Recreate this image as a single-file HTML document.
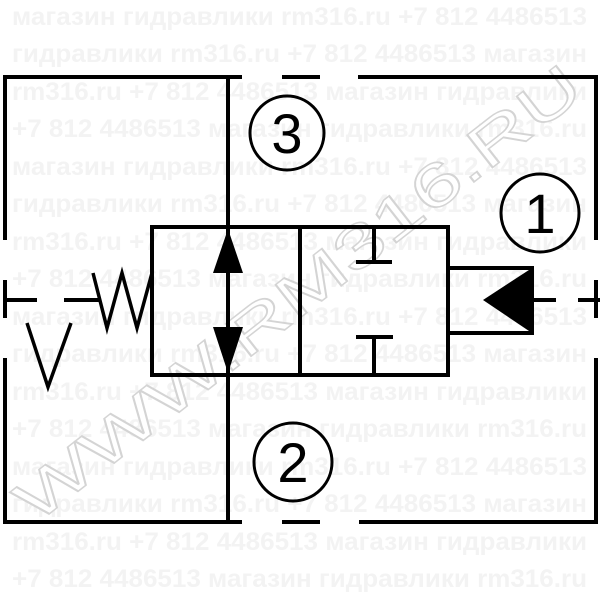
<!DOCTYPE html>
<html><head><meta charset="utf-8"><style>html,body{margin:0;padding:0;background:#fff}svg{display:block}</style></head>
<body>
<svg width="600" height="600" viewBox="0 0 600 600" xmlns="http://www.w3.org/2000/svg">
<g font-family="Liberation Sans, sans-serif" font-weight="bold" font-size="25" fill="#f3f3f3">
<text x="12" y="25" textLength="575" lengthAdjust="spacingAndGlyphs">магазин гидравлики rm316.ru +7 812 4486513</text>
<text x="12" y="62" textLength="575" lengthAdjust="spacingAndGlyphs">гидравлики rm316.ru +7 812 4486513 магазин</text>
<text x="12" y="100" textLength="575" lengthAdjust="spacingAndGlyphs">rm316.ru +7 812 4486513 магазин гидравлики</text>
<text x="12" y="137" textLength="575" lengthAdjust="spacingAndGlyphs">+7 812 4486513 магазин гидравлики rm316.ru</text>
<text x="12" y="175" textLength="575" lengthAdjust="spacingAndGlyphs">магазин гидравлики rm316.ru +7 812 4486513</text>
<text x="12" y="212" textLength="575" lengthAdjust="spacingAndGlyphs">гидравлики rm316.ru +7 812 4486513 магазин</text>
<text x="12" y="250" textLength="575" lengthAdjust="spacingAndGlyphs">rm316.ru +7 812 4486513 магазин гидравлики</text>
<text x="12" y="287" textLength="575" lengthAdjust="spacingAndGlyphs">+7 812 4486513 магазин гидравлики rm316.ru</text>
<text x="12" y="325" textLength="575" lengthAdjust="spacingAndGlyphs">магазин гидравлики rm316.ru +7 812 4486513</text>
<text x="12" y="362" textLength="575" lengthAdjust="spacingAndGlyphs">гидравлики rm316.ru +7 812 4486513 магазин</text>
<text x="12" y="400" textLength="575" lengthAdjust="spacingAndGlyphs">rm316.ru +7 812 4486513 магазин гидравлики</text>
<text x="12" y="437" textLength="575" lengthAdjust="spacingAndGlyphs">+7 812 4486513 магазин гидравлики rm316.ru</text>
<text x="12" y="475" textLength="575" lengthAdjust="spacingAndGlyphs">магазин гидравлики rm316.ru +7 812 4486513</text>
<text x="12" y="512" textLength="575" lengthAdjust="spacingAndGlyphs">гидравлики rm316.ru +7 812 4486513 магазин</text>
<text x="12" y="550" textLength="575" lengthAdjust="spacingAndGlyphs">rm316.ru +7 812 4486513 магазин гидравлики</text>
<text x="12" y="587" textLength="575" lengthAdjust="spacingAndGlyphs">+7 812 4486513 магазин гидравлики rm316.ru</text>
</g>
<text x="0" y="0" transform="translate(35,525) rotate(-38)" font-family="Liberation Sans, sans-serif" font-size="60" fill="#fff" stroke="#d4d4d4" stroke-width="1.5" textLength="700" lengthAdjust="spacingAndGlyphs">WWW.RM316.RU</text>
<g stroke="#000" stroke-width="4" fill="none" stroke-linecap="butt">
<path d="M5 77H242M282 77H320M358 77H598"/>
<path d="M5 522H242M282 522H320M359 522H598"/>
<path d="M5 75V240M5 280V318M5 358V524"/>
<path d="M596 75V240M596 280V318M596 358V524"/>
<path d="M3 300H37M64 300H100"/>
<path d="M532 300H556M578 300H600"/>
<path d="M228 77V522"/>
<rect x="152" y="227" width="296" height="148"/>
<path d="M300 227V375"/>
<path d="M374 227V262M356 262H392"/>
<path d="M356 337H393M374 337V375"/>
<path d="M448 268H532V333H448"/>
<path d="M93 273L107 328L122 273L137 328L152 273" stroke-width="3.5" stroke-linejoin="miter"/>
<path d="M27 323L48 387L71 323" stroke-width="3.5"/>
<circle cx="287" cy="133" r="37" stroke-width="3"/>
<circle cx="540" cy="213" r="39" stroke-width="3"/>
<circle cx="293" cy="462" r="39" stroke-width="3"/>
</g>
<g fill="#000">
<polygon points="228,229 213,273 243,273"/>
<polygon points="228,373 213,327 243,327"/>
<polygon points="483,300 532,268 532,333"/>
</g>
<g font-family="Liberation Sans, sans-serif" font-size="56" text-anchor="middle" fill="#000">
<text x="287" y="153">3</text>
<text x="540" y="233">1</text>
<text x="293" y="482">2</text>
</g>
</svg>
</body></html>
